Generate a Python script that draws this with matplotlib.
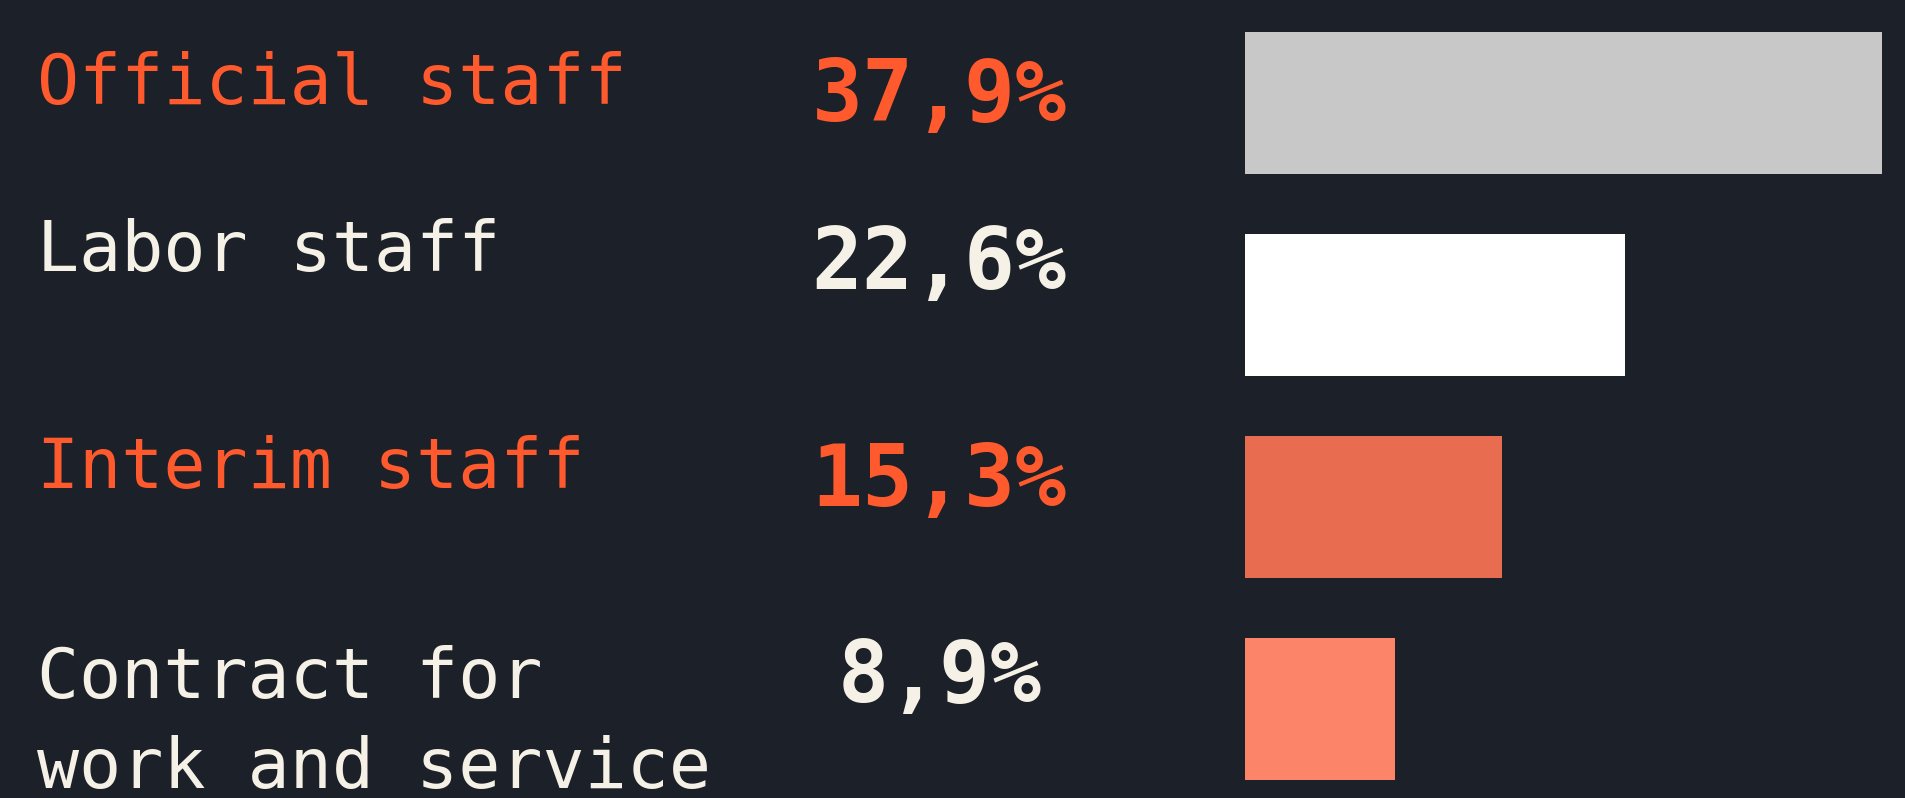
import matplotlib.pyplot as plt

# data
categories = ['Official staff', 'Labor staff', 'Interim staff', 'Contract for\nwork and service']
shares = [37.9, 22.6, 15.3, 8.9]
share_labels = ['37,9%', '22,6%', '15,3%', '8,9%']

# styling
BG = '#1B2029'
ORANGE = '#FF5A2D'
CREAM = '#F5F1E6'
bar_colors = ['#C8C8C8', '#FFFFFF', '#E86C50', '#FC8468']
text_colors = [ORANGE, CREAM, ORANGE, CREAM]
# small vertical nudges of the text baselines relative to each row
# (multi-line labels are anchored on their last line)
label_dy = [0.005, -0.168, -0.094, 0.391]
value_dy = [0.089, -0.079, -0.005, -0.035]

fig = plt.figure(figsize=(19.06, 7.98), dpi=100)
fig.patch.set_facecolor(BG)
ax = fig.add_axes([0, 0, 1, 1])
ax.set_facecolor(BG)

rows = list(range(len(categories)))
ax.barh(rows, shares, height=0.7, color=bar_colors, left=0)

# label column and value column
for i in rows:
    ax.text(-71.9, i + label_dy[i], categories[i], color=text_colors[i],
            family='DejaVu Sans Mono', fontsize=50.4, ha='left', va='baseline',
            linespacing=1.43)
    ax.text(-18.2, i + value_dy[i], share_labels[i], color=text_colors[i],
            family='DejaVu Sans Mono', fontweight='bold', fontsize=61,
            ha='center', va='baseline')

ax.set_xlim(-74.08, 39.33)
ax.set_ylim(3.441, -0.51)
ax.axis('off')

fig.savefig('out.png', dpi=100, facecolor=BG)
